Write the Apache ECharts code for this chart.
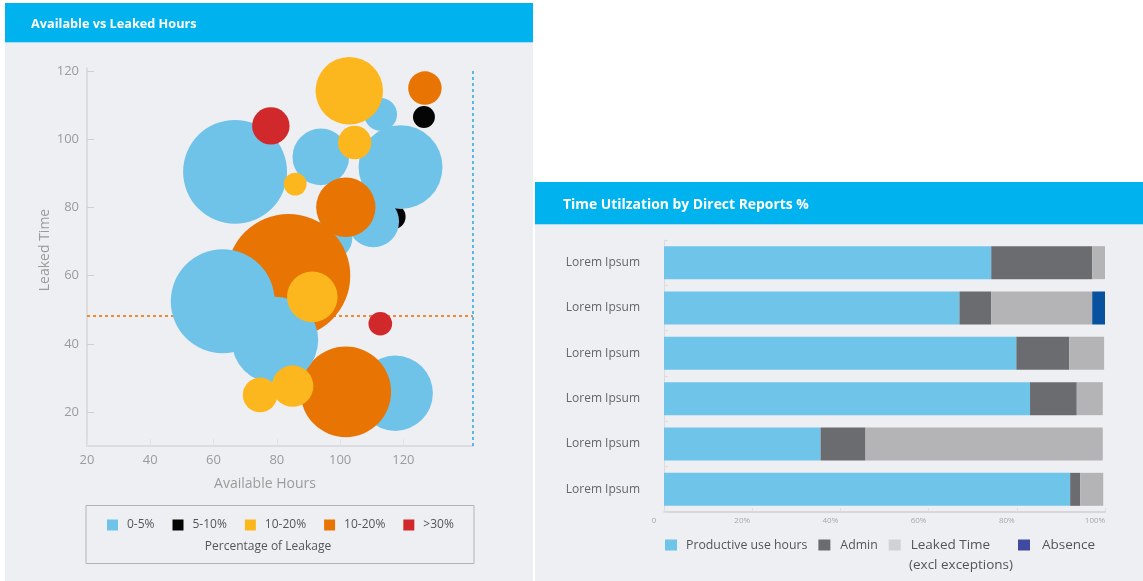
<!DOCTYPE html>
<html><head><meta charset="utf-8">
<script src="https://cdn.jsdelivr.net/npm/echarts@6/dist/echarts.min.js"></script>
<style>html,body{margin:0;padding:0;background:#fff;}#c{width:1143px;height:581px;}</style>
</head><body><div id="c"></div>
<script>
// ---- Bubble chart data: [available hours, leaked time, bubble size] ----
const leakageBands = ['0-5%', '5-10%', '10-20%', '10-20%', '>30%'];
const band5to10 = [[126.5,106.6,12],[116.7,77.3,16]];
const band0to5Back = [[112.8,107.4,27],[93.9,94.9,80],[119.1,91.9,176],[110.5,75.9,66],[97.3,71.0,43],[117.4,25.5,142]];
const band10to20Orange = [[126.8,115.1,28],[101.8,80.1,88],[83.7,60.0,381],[101.8,25.9,205]];
const band0to5Front = [[66.8,90.5,270],[62.9,52.5,270],[79.4,41.1,187]];
const band10to20Yellow = [[102.9,114.3,114],[104.6,99.1,28],[85.8,86.9,13],[91.2,53.8,64],[74.7,25.0,30],[85.0,27.6,43]];
const bandOver30 = [[78.1,104.0,35],[112.7,45.9,14]];
const availableTicks = [20,40,60,80,100,120];
const leakedTicks = [20,40,60,80,100,120];
const leakThreshold = 48.2;
const availableLimit = 142;

// ---- Stacked bar data (% of time) ----
const reportNames = ['Lorem Ipsum','Lorem Ipsum','Lorem Ipsum','Lorem Ipsum','Lorem Ipsum','Lorem Ipsum'];
const productive = [74.2, 67.0, 79.9, 83.0, 35.5, 92.1];
const admin = [22.9, 7.2, 12.0, 10.6, 10.2, 2.3];
const leakedTime = [2.9, 22.9, 7.9, 5.9, 53.8, 5.2];
const absence = [0, 2.9, 0, 0, 0, 0];
const pctTicks = [0,20,40,60,80,100];

const C = {blue:'#6fc3e8', black:'#050505', yellow:'#fdb71e', orange:'#e87503', red:'#d0282b',
  pBlue:'#6fc4e9', dark:'#6b6c70', light:'#b4b4b6', navy:'#07519e'};
const FONT = '"Open Sans", "Noto Sans", sans-serif';
const bubbleSize = v => 2 * Math.sqrt(v[2] * 10);

function bubble(key, data, color, extra) {
  return Object.assign({
    name: key, type: 'scatter', xAxisIndex: 0, yAxisIndex: 0, data: data,
    symbolSize: bubbleSize, itemStyle: {color: color, opacity: 1},
    emphasis: {disabled: true}, silent: true
  }, extra || {});
}

const chart = echarts.init(document.getElementById('c'));
chart.setOption({
  backgroundColor: '#ffffff',
  textStyle: {fontFamily: FONT},
  animation: false,
  graphic: [
    {type:'rect', z:-10, shape:{x:5,y:3,width:528,height:578}, style:{fill:'#eeeff3'}},
    {type:'rect', z:-9, shape:{x:5,y:3,width:528,height:40}, style:{fill:'#00b3ef'}},
    {type:'rect', z:-9, shape:{x:5,y:42,width:528,height:1}, style:{fill:'#a6def6'}},
    {type:'rect', z:-10, shape:{x:535,y:182,width:608,height:399}, style:{fill:'#eeeff3'}},
    {type:'rect', z:-9, shape:{x:535,y:182,width:608,height:42}, style:{fill:'#00b3ef'}},
    {type:'rect', z:-9, shape:{x:535,y:224,width:608,height:1}, style:{fill:'#a6def6'}},
    {type:'rect', z:-8, shape:{x:86,y:505.5,width:388,height:58}, style:{fill:'none', stroke:'#b3b3b6', lineWidth:1}},
    {type:'text', z:5, x:268, y:547, style:{text:'Percentage of Leakage', fill:'#555', font:'12px ' + FONT, align:'center', verticalAlign:'middle'}},
    {type:'text', z:5, x:909, y:565, style:{text:'(excl exceptions)', fill:'#555', font:'13.5px ' + FONT, align:'left', verticalAlign:'middle'}}
  ],
  title: [
    {text:'Available vs Leaked Hours', left:31, top:17.5, padding:0,
     textStyle:{color:'#fff', fontSize:12.7, fontWeight:'bold', fontFamily:FONT}},
    {text:'Time Utilzation by Direct Reports %', left:563, top:198.5, padding:0,
     textStyle:{color:'#fff', fontSize:13.9, fontWeight:'bold', fontFamily:FONT}}
  ],
  legend: [
    {
      data: ['b0','b1','b2','b3','b4'], left: 107, top: 519, padding: 0,
      itemWidth: 11, itemHeight: 11, itemGap: 18, icon: 'rect',
      formatter: n => leakageBands[+n.slice(1)],
      textStyle: {fontSize: 12, color: '#555', padding: [0,0,0,4]},
      selectedMode: false
    },
    {
      data: [
        {name:'Productive use hours', textStyle:{padding:[0,0,0,4]}},
        {name:'Admin', textStyle:{padding:[0,0,0,5]}},
        {name:'Leaked Time', itemStyle:{color:'#d2d2d4'}, textStyle:{fontSize:13.5, padding:[0,0,0,5]}}
      ],
      left: 665, top: 538, padding: 0, itemWidth: 12, itemHeight: 11, itemGap: 11, icon: 'rect',
      textStyle: {fontSize: 12.3, color: '#555'},
      selectedMode: false
    },
    {
      data: [
        {name:'Absence', itemStyle:{color:'#3f4aa0'}, textStyle:{fontSize:13.5, padding:[0,0,0,7]}}
      ],
      left: 1018, top: 538, padding: 0, itemWidth: 12, itemHeight: 11, icon: 'rect',
      textStyle: {fontSize: 13.5, color: '#555'},
      selectedMode: false
    }
  ],
  grid: [
    {left: 87, top: 68, width: 386, height: 378},
    {left: 664, top: 240, width: 441, height: 272}
  ],
  xAxis: [
    {
      gridIndex: 0, type: 'value', min: 20, max: availableLimit,
      name: 'Available Hours', nameLocation: 'middle', nameGap: 31,
      nameTextStyle: {fontSize: 14, color: '#9b9b9b', padding: [0,30,0,0]},
      axisLine: {show: true, lineStyle: {color: '#d6d6da', width: 1.5}},
      axisTick: {show: true, inside: true, length: 7, customValues: availableTicks, lineStyle: {color: '#e2e2e6'}},
      axisLabel: {customValues: availableTicks, fontSize: 13, color: '#9b9b9b', margin: 8},
      splitLine: {show: false}
    },
    {
      gridIndex: 1, type: 'value', min: 0, max: 100, interval: 20,
      axisLine: {show: true, lineStyle: {color: '#cfcfd3', width: 1.5}},
      axisTick: {show: true, inside: true, length: 4, lineStyle: {color: '#dedee2'}},
      axisLabel: {fontSize: 8, color: '#a8a8a8', margin: 5, padding: [0,20,0,0],
        formatter: v => v === 0 ? '0' : v + '%'},
      splitLine: {show: false}
    }
  ],
  yAxis: [
    {
      gridIndex: 0, type: 'value', min: 10, max: 121,
      name: 'Leaked Time', nameLocation: 'middle', nameGap: 35,
      nameTextStyle: {fontSize: 14, color: '#9b9b9b', padding: [0,0,0,14]},
      axisLine: {show: true, lineStyle: {color: '#d6d6da', width: 1.5}},
      axisTick: {show: true, inside: true, length: 7, customValues: leakedTicks, lineStyle: {color: '#cfcfd3'}},
      axisLabel: {customValues: leakedTicks, fontSize: 13, color: '#9b9b9b', margin: 8},
      splitLine: {show: false}
    },
    {
      gridIndex: 1, type: 'category', data: reportNames, inverse: true, offset: 8,
      axisLine: {show: true, lineStyle: {color: '#dcdce0'}},
      axisTick: {show: true, inside: true, length: 4, lineStyle: {color: '#dcdce0'}},
      axisLabel: {fontSize: 12, color: '#666', margin: 16},
      splitLine: {show: false}
    }
  ],
  series: [
    bubble('b1', band5to10, C.black, {
      markLine: {
        silent: true, z: 1, symbol: ['none','none'], label: {show: false},
        lineStyle: {type: [3,3], width: 2},
        data: [
          {yAxis: leakThreshold, lineStyle: {color: '#ec8a3a'}},
          {xAxis: availableLimit, lineStyle: {color: '#2aa8de', width: 1.5}}
        ]
      }
    }),
    bubble('b0', band0to5Back, C.blue),
    bubble('b3', band10to20Orange, C.orange),
    bubble('b0', band0to5Front, C.blue),
    bubble('b2', band10to20Yellow, C.yellow),
    bubble('b4', bandOver30, C.red),
    {name:'Productive use hours', type:'bar', stack:'t', xAxisIndex:1, yAxisIndex:1, barWidth:33, data: productive, itemStyle:{color:C.pBlue}, silent:true},
    {name:'Admin', type:'bar', stack:'t', xAxisIndex:1, yAxisIndex:1, barWidth:33, data: admin, itemStyle:{color:C.dark}, silent:true},
    {name:'Leaked Time', type:'bar', stack:'t', xAxisIndex:1, yAxisIndex:1, barWidth:33, data: leakedTime, itemStyle:{color:C.light}, silent:true},
    {name:'Absence', type:'bar', stack:'t', xAxisIndex:1, yAxisIndex:1, barWidth:33, data: absence, itemStyle:{color:C.navy}, silent:true}
  ]
});
</script></body></html>
